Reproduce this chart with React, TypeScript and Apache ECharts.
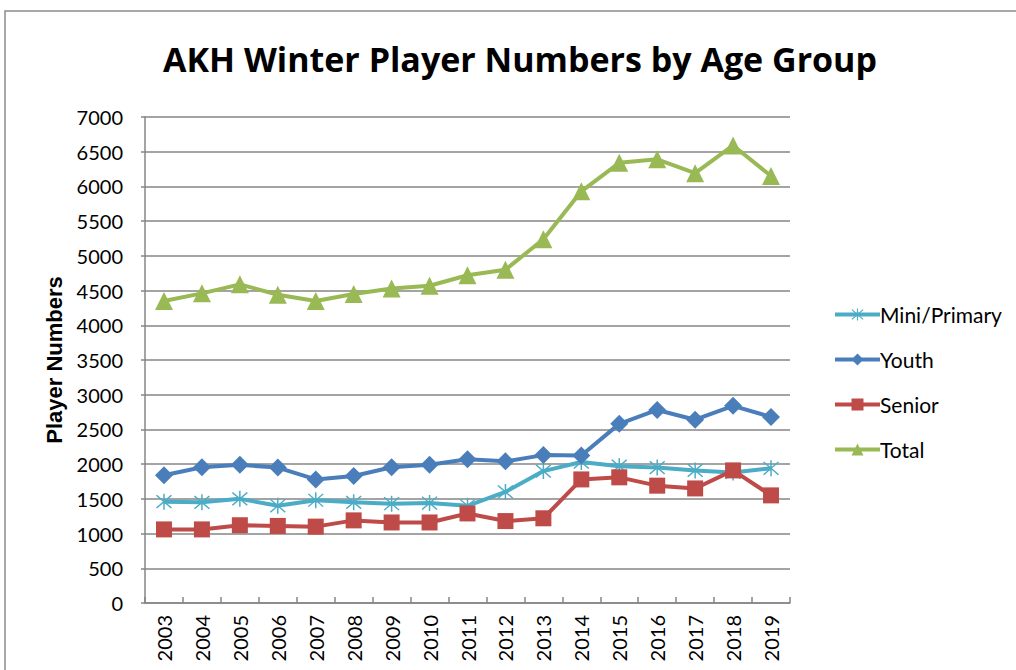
import React, { useEffect, useRef } from "react";
import * as echarts from "echarts";

const years = ["2003","2004","2005","2006","2007","2008","2009","2010","2011","2012","2013","2014","2015","2016","2017","2018","2019"];
const miniPrimary = [1460,1450,1500,1400,1480,1450,1430,1440,1400,1600,1900,2030,1970,1950,1910,1880,1940];
const youth = [1840,1955,1990,1950,1780,1830,1955,1990,2070,2040,2130,2125,2580,2780,2640,2840,2680];
const senior = [1060,1060,1120,1110,1100,1190,1160,1160,1290,1180,1220,1780,1810,1690,1650,1910,1550];
const total = [4350,4460,4590,4440,4350,4450,4530,4570,4720,4800,5240,5930,6340,6390,6190,6590,6150];

const asterisk =
  "path://M9.2 0H10.8V20H9.2Z M1.43 2.57L2.57 1.43L18.57 17.43L17.43 18.57Z M17.43 1.43L18.57 2.57L2.57 18.57L1.43 17.43Z";

export default function App() {
  const ref = useRef<HTMLDivElement>(null);
  useEffect(() => {
    document.body.style.margin = "0";
    const chart = echarts.init(ref.current!, null, { renderer: "svg" });
    const font = "Lato, 'Open Sans', sans-serif";
    const gridColor = "#868686";
    const mk = (name: string, data: number[], color: string, symbol: string, size: number) => ({
      name,
      type: "line",
      data,
      symbol,
      symbolSize: size,
      showSymbol: true,
      lineStyle: { color, width: 4 },
      itemStyle: { color, borderWidth: 0 },
      emphasis: { disabled: true },
    });
    chart.setOption({
      animation: false,
      backgroundColor: "#ffffff",
      title: {
        text: "AKH Winter Player Numbers by Age Group",
        left: 515,
        top: 37,
        textAlign: "center",
        textStyle: { fontFamily: "'Open Sans', sans-serif", fontSize: 34, fontWeight: "bold", color: "#000" },
      },
      graphic: [
        {
          type: "rect",
          shape: { x: 5, y: 11, width: 1200, height: 800 },
          style: { fill: "none", stroke: "#8c8c8c", lineWidth: 1.5 },
          silent: true,
        },
      ],
      legend: {
        orient: "vertical",
        left: 828,
        top: 299,
        itemWidth: 45,
        itemHeight: 15,
        itemGap: 24,
        lineStyle: { width: 4 },
        textStyle: { fontFamily: font, fontSize: 21, color: "#000", padding: [0, 0, 0, -5] },
        data: ["Mini/Primary", "Youth", "Senior", "Total"],
      },
      grid: { left: 145, right: 226, top: 117, bottom: 67, containLabel: false },
      xAxis: {
        type: "category",
        data: years,
        boundaryGap: true,
        axisLine: { lineStyle: { color: gridColor, width: 1.5 } },
        axisTick: { show: true, inside: true, length: 6, lineStyle: { color: gridColor, width: 1.5 } },
        axisLabel: { rotate: 90, interval: 0, fontFamily: font, fontSize: 20, color: "#000", margin: 12 },
      },
      yAxis: {
        type: "value",
        min: 0,
        max: 7000,
        interval: 500,
        name: "Player Numbers",
        nameLocation: "middle",
        nameGap: 78,
        nameTextStyle: { fontFamily: "'Liberation Sans', Arial, sans-serif", fontSize: 22, fontWeight: "bold", color: "#000" },
        axisLine: { show: true, lineStyle: { color: gridColor, width: 1.5 } },
        axisTick: { show: true, length: 4, lineStyle: { color: gridColor, width: 1.5 } },
        axisLabel: { fontFamily: font, fontSize: 20, color: "#000", margin: 22, formatter: (v: number) => String(v) },
        splitLine: { lineStyle: { color: gridColor, width: 1.5 } },
      },
      series: [
        mk("Mini/Primary", miniPrimary, "#4BACC6", asterisk, 16),
        mk("Youth", youth, "#4A7EBB", "diamond", 18),
        mk("Senior", senior, "#BE4B48", "rect", 16),
        mk("Total", total, "#98B954", "triangle", 18),
      ],
    });
    return () => chart.dispose();
  }, []);
  return <div ref={ref} style={{ width: 1016, height: 670 }} />;
}
